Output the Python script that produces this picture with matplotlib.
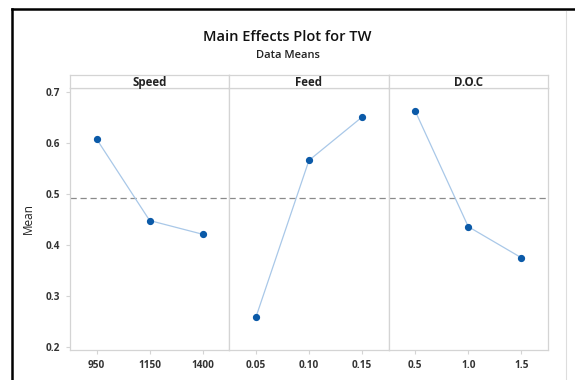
import matplotlib.pyplot as plt
from matplotlib.lines import Line2D

# data
factors = ['Speed', 'Feed', 'D.O.C']
levels = [['950', '1150', '1400'],
          ['0.05', '0.10', '0.15'],
          ['0.5', '1.0', '1.5']]
speed_means = [0.608, 0.448, 0.421]
feed_means = [0.258, 0.566, 0.651]
doc_means = [0.663, 0.436, 0.375]
grand_mean = 0.492
yticks = [0.2, 0.3, 0.4, 0.5, 0.6, 0.7]

plt.rcParams['font.family'] = ['Open Sans', 'DejaVu Sans']

fig = plt.figure(figsize=(5.75, 3.8), dpi=100)
W, H = 575.0, 380.0

grey = '#d4d4d4'
means = [speed_means, feed_means, doc_means]
left, pw = 70, 159.3
top, bot = 88, 350
for i, (name, lv, m) in enumerate(zip(factors, levels, means)):
    ax = fig.add_axes([(left + i * pw) / W, (H - bot) / H, pw / W, (bot - top) / H])
    x = list(range(len(lv)))
    ax.plot(x, m, color='#a9c8e8', lw=0.9, zorder=2)
    ax.plot(x, m, 'o', color='#0b5aa8', ms=4.2, zorder=3)
    ax.axhline(grand_mean, color='#8a8a8a', ls=(0, (5, 3)), lw=0.9, zorder=1)
    ax.set_xlim(-0.5, 2.5)
    ax.set_ylim(0.194, 0.708)
    ax.set_xticks(x)
    ax.set_xticklabels(lv, fontsize=7.2, fontweight='bold', color='#333333')
    ax.set_yticks(yticks)
    if i == 0:
        ax.set_yticklabels(['%.1f' % t for t in yticks], fontsize=7.2,
                           fontweight='bold', color='#333333')
        ax.set_ylabel('Mean', fontsize=8.5, color='#222222', labelpad=8)
    else:
        ax.tick_params(axis='y', left=False, labelleft=False)
    ax.tick_params(axis='both', color=grey, length=3, width=0.8, pad=4)
    for s in ax.spines.values():
        s.set_color(grey)
        s.set_linewidth(0.9)
    # strip header
    sax = fig.add_axes([(left + i * pw) / W, (H - top) / H, pw / W, 13 / H])
    sax.set_xticks([])
    sax.set_yticks([])
    for s in sax.spines.values():
        s.set_color(grey)
        s.set_linewidth(0.9)
    sax.text(0.5, 0.45, name, ha='center', va='center', fontsize=8.3,
             fontweight='bold', color='#222222', transform=sax.transAxes)

fig.text(0.5, (H - 37) / H, 'Main Effects Plot for TW', ha='center', va='center',
         fontsize=10.5, fontweight='semibold', color='#111111')
fig.text(0.5, (H - 55) / H, 'Data Means', ha='center', va='center',
         fontsize=8, fontweight='semibold', color='#222222')

# page frame around the figure
fig.add_artist(Line2D([12 / W, 12 / W], [0, (H - 9) / H], color='black', lw=1.8))
fig.add_artist(Line2D([12 / W, 1], [(H - 9) / H, (H - 9) / H], color='black', lw=1.8))
fig.add_artist(Line2D([566 / W, 566 / W], [0, (H - 11) / H], color='#dddddd', lw=0.8))

fig.savefig('out.png', dpi=100)
